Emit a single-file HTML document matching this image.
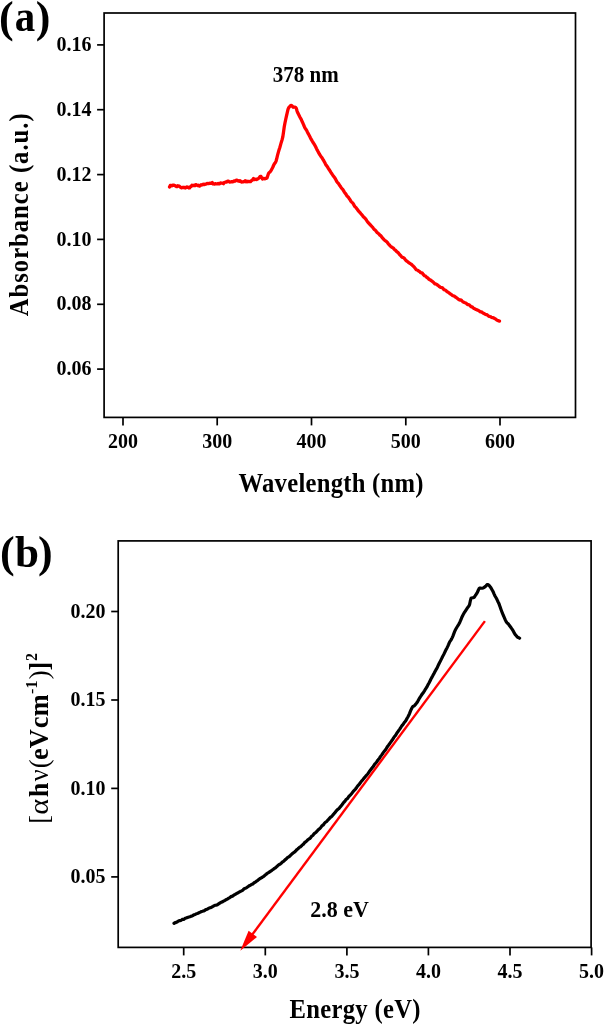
<!DOCTYPE html>
<html><head><meta charset="utf-8"><style>
html,body{margin:0;padding:0;background:#fff;}
svg{display:block;will-change:transform;}
text{font-family:"Liberation Serif","Times New Roman",serif;font-weight:bold;fill:#000;}
.tk{font-size:20px;}
.lbl{font-size:21px;}
.lbl2{font-size:22px;}
.pl{font-size:44px;}
.ttl{font-size:26.5px;}
.ttl2{font-size:26.5px;}
.r{font-weight:normal;}
.sup{font-size:16px;}
</style></head><body>
<svg width="604" height="1024" viewBox="0 0 604 1024">
<rect x="104.1" y="13.0" width="471.4" height="404.4" fill="none" stroke="#000" stroke-width="1.7"/>
<line x1="123.0" y1="417.4" x2="123.0" y2="425.4" stroke="#000" stroke-width="1.7"/>
<text transform="translate(123.0,447.7) scale(1,1.045)" text-anchor="middle" class="tk">200</text>
<line x1="217.2" y1="417.4" x2="217.2" y2="425.4" stroke="#000" stroke-width="1.7"/>
<text transform="translate(217.2,447.7) scale(1,1.045)" text-anchor="middle" class="tk">300</text>
<line x1="311.5" y1="417.4" x2="311.5" y2="425.4" stroke="#000" stroke-width="1.7"/>
<text transform="translate(311.5,447.7) scale(1,1.045)" text-anchor="middle" class="tk">400</text>
<line x1="405.8" y1="417.4" x2="405.8" y2="425.4" stroke="#000" stroke-width="1.7"/>
<text transform="translate(405.8,447.7) scale(1,1.045)" text-anchor="middle" class="tk">500</text>
<line x1="500.0" y1="417.4" x2="500.0" y2="425.4" stroke="#000" stroke-width="1.7"/>
<text transform="translate(500.0,447.7) scale(1,1.045)" text-anchor="middle" class="tk">600</text>
<line x1="97.1" y1="369.1" x2="104.1" y2="369.1" stroke="#000" stroke-width="1.7"/>
<text transform="translate(91.4,374.95) scale(1,1.04)" text-anchor="end" class="tk">0.06</text>
<line x1="97.1" y1="304.3" x2="104.1" y2="304.3" stroke="#000" stroke-width="1.7"/>
<text transform="translate(91.4,310.23) scale(1,1.04)" text-anchor="end" class="tk">0.08</text>
<line x1="97.1" y1="239.4" x2="104.1" y2="239.4" stroke="#000" stroke-width="1.7"/>
<text transform="translate(91.4,245.51) scale(1,1.04)" text-anchor="end" class="tk">0.10</text>
<line x1="97.1" y1="174.6" x2="104.1" y2="174.6" stroke="#000" stroke-width="1.7"/>
<text transform="translate(91.4,180.79) scale(1,1.04)" text-anchor="end" class="tk">0.12</text>
<line x1="97.1" y1="109.7" x2="104.1" y2="109.7" stroke="#000" stroke-width="1.7"/>
<text transform="translate(91.4,116.07) scale(1,1.04)" text-anchor="end" class="tk">0.14</text>
<line x1="97.1" y1="44.9" x2="104.1" y2="44.9" stroke="#000" stroke-width="1.7"/>
<text transform="translate(91.4,51.35) scale(1,1.04)" text-anchor="end" class="tk">0.16</text>
<polyline points="169.50,186.96 170.25,185.45 171.00,185.33 171.75,185.93 172.50,185.39 173.25,185.10 174.00,185.06 174.75,185.54 175.50,185.93 176.25,186.51 177.00,186.66 177.75,185.72 178.50,185.96 179.25,186.11 180.00,186.94 180.75,187.32 181.50,187.77 182.25,187.40 183.00,187.41 183.75,187.66 184.50,187.32 185.25,188.00 186.00,187.76 186.75,186.89 187.50,187.06 188.25,187.31 189.00,187.99 189.75,187.84 190.50,186.63 191.25,186.46 192.00,185.12 192.75,185.72 193.50,185.66 194.25,185.11 195.00,185.64 195.75,184.59 196.50,184.95 197.25,185.52 198.00,185.10 198.75,185.75 199.50,186.16 200.25,185.32 201.00,184.78 201.75,185.04 202.50,184.68 203.25,184.26 204.00,184.61 204.75,184.39 205.50,184.04 206.25,184.12 207.00,183.46 207.75,183.61 208.50,183.58 209.25,183.33 210.00,183.22 210.75,183.30 211.50,183.13 212.25,182.53 213.00,183.86 213.75,183.83 214.50,184.16 215.25,183.65 216.00,183.93 216.75,183.78 217.50,183.90 218.25,183.43 219.00,183.75 219.75,183.79 220.50,182.93 221.25,183.12 222.00,183.18 222.75,183.25 223.50,183.72 224.25,182.51 225.00,182.29 225.75,181.94 226.50,182.12 227.25,181.30 228.00,181.08 228.75,181.35 229.50,182.06 230.25,182.03 231.00,181.81 231.75,181.68 232.50,181.87 233.25,181.73 234.00,180.99 234.75,180.95 235.50,181.00 236.25,180.07 237.00,180.16 237.75,180.51 238.50,181.13 239.25,181.23 240.00,180.63 240.75,181.46 241.50,182.12 242.25,181.79 243.00,181.91 243.75,181.54 244.50,181.53 245.25,180.70 246.00,181.84 246.75,181.18 247.50,181.76 248.25,181.47 249.00,181.51 249.75,181.59 250.50,181.71 251.25,180.78 252.00,180.35 252.75,179.51 253.50,178.47 254.25,179.48 255.00,179.49 255.75,179.19 256.50,179.49 257.25,179.02 258.00,178.80 258.75,178.20 259.50,177.31 260.25,176.39 261.00,176.47 261.75,177.93 262.50,179.07 263.25,178.47 264.00,178.48 264.75,178.83 265.50,178.28 266.25,178.40 267.00,177.85 267.75,175.71 268.50,173.52 269.25,172.55 270.00,171.99 270.75,171.07 271.50,169.71 272.25,168.31 273.00,166.75 273.75,165.00 274.50,163.60 275.25,162.70 276.00,161.27 276.75,158.56 277.50,155.48 278.25,152.60 279.00,150.03 279.75,147.71 280.50,145.13 281.25,142.43 282.00,140.03 282.75,137.17 283.50,132.32 284.25,126.81 285.00,122.76 285.75,119.24 286.50,115.83 287.25,112.67 288.00,109.49 288.75,107.66 289.50,106.82 290.25,105.91 291.00,105.44 291.75,105.57 292.50,106.50 293.25,107.22 294.00,107.07 294.75,107.20 295.50,107.37 296.25,108.28 297.00,110.83 297.75,112.82 298.50,114.29 299.25,115.74 300.00,117.25 300.75,118.58 301.50,120.07 302.25,121.71 303.00,123.37 303.75,125.25 304.50,126.95 305.25,128.37 306.00,129.48 306.75,130.66 307.50,132.24 308.25,133.70 309.00,134.99 309.75,136.42 310.50,138.01 311.25,139.46 312.00,140.70 312.75,142.01 313.50,143.15 314.25,144.26 315.00,145.57 315.75,146.97 316.50,148.64 317.25,150.21 318.00,151.47 318.75,152.89 319.50,154.30 320.25,155.38 321.00,156.43 321.75,157.43 322.50,158.60 323.25,159.95 324.00,161.16 324.75,162.57 325.50,164.05 326.25,165.31 327.00,166.29 327.75,167.32 328.50,168.59 329.25,169.74 330.00,170.93 330.75,172.17 331.50,173.31 332.25,174.36 333.00,175.43 333.75,176.42 334.50,177.41 335.25,178.64 336.00,180.01 336.75,181.54 337.50,182.58 338.25,183.20 339.00,184.37 339.75,185.52 340.50,186.54 341.25,187.75 342.00,188.62 342.75,189.43 343.50,190.69 344.25,191.95 345.00,192.91 345.75,193.87 346.50,195.18 347.25,196.21 348.00,196.87 348.75,197.84 349.50,198.96 350.25,200.17 351.00,201.45 351.75,202.21 352.50,202.76 353.25,203.72 354.00,205.14 354.75,206.43 355.50,207.12 356.25,207.90 357.00,208.90 357.75,210.01 358.50,211.08 359.25,211.78 360.00,212.60 360.75,213.57 361.50,214.32 362.25,215.20 363.00,216.34 363.75,217.16 364.50,217.76 365.25,218.46 366.00,219.42 366.75,220.65 367.50,221.73 368.25,222.64 369.00,223.52 369.75,224.24 370.50,224.96 371.25,225.89 372.00,226.68 372.75,227.43 373.50,228.43 374.25,229.36 375.00,229.94 375.75,230.63 376.50,231.75 377.25,232.71 378.00,233.18 378.75,233.77 379.50,234.72 380.25,235.47 381.00,235.97 381.75,237.00 382.50,237.99 383.25,238.66 384.00,239.62 384.75,240.31 385.50,240.81 386.25,241.42 387.00,241.98 387.75,243.03 388.50,244.11 389.25,244.82 390.00,245.66 390.75,246.39 391.50,247.04 392.25,247.42 393.00,247.71 393.75,248.64 394.50,249.56 395.25,250.04 396.00,250.75 396.75,251.70 397.50,252.25 398.25,252.71 399.00,253.69 399.75,254.69 400.50,255.41 401.25,256.33 402.00,257.14 402.75,257.41 403.50,257.64 404.25,258.28 405.00,259.32 405.75,260.26 406.50,260.91 407.25,261.45 408.00,261.99 408.75,262.61 409.50,263.18 410.25,263.66 411.00,264.07 411.75,264.65 412.50,265.43 413.25,266.06 414.00,266.83 414.75,267.75 415.50,268.71 416.25,269.70 417.00,270.02 417.75,270.22 418.50,270.92 419.25,271.47 420.00,271.98 420.75,272.65 421.50,272.77 422.25,273.07 423.00,274.10 423.75,275.04 424.50,275.70 425.25,275.97 426.00,276.49 426.75,277.32 427.50,277.75 428.25,278.45 429.00,279.28 429.75,279.66 430.50,280.04 431.25,280.70 432.00,281.25 432.75,281.67 433.50,282.35 434.25,283.24 435.00,283.87 435.75,283.94 436.50,284.23 437.25,284.94 438.00,285.47 438.75,286.01 439.50,286.69 440.25,287.22 441.00,287.51 441.75,287.67 442.50,287.87 443.25,288.75 444.00,289.74 444.75,290.02 445.50,290.21 446.25,290.79 447.00,291.59 447.75,292.04 448.50,292.39 449.25,293.10 450.00,293.76 450.75,294.15 451.50,294.64 452.25,295.35 453.00,295.74 453.75,295.90 454.50,296.25 455.25,296.86 456.00,297.48 456.75,297.97 457.50,298.55 458.25,299.14 459.00,299.66 459.75,299.98 460.50,299.97 461.25,300.16 462.00,300.95 462.75,301.69 463.50,302.09 464.25,302.44 465.00,302.70 465.75,302.98 466.50,303.56 467.25,304.32 468.00,304.67 468.75,304.72 469.50,305.02 470.25,305.80 471.00,306.61 471.75,306.86 472.50,307.14 473.25,307.92 474.00,308.53 474.75,308.82 475.50,309.18 476.25,309.59 477.00,309.93 477.75,310.14 478.50,310.48 479.25,311.08 480.00,311.66 480.75,311.86 481.50,311.86 482.25,312.45 483.00,313.07 483.75,313.29 484.50,313.75 485.25,314.27 486.00,314.53 486.75,314.70 487.50,315.18 488.25,315.90 489.00,316.34 489.75,316.49 490.50,316.74 491.25,317.24 492.00,317.59 492.75,317.56 493.50,317.80 494.25,318.34 495.00,318.68 495.75,319.14 496.50,319.82 497.25,320.24 498.00,320.57 498.75,320.94 499.50,321.16" fill="none" stroke="#ff0000" stroke-width="3.3" stroke-linejoin="round" stroke-linecap="round"/>
<text transform="translate(272.8,82) scale(1,1.06)" class="lbl">378 nm</text>
<text x="-0.9" y="32" class="pl">(</text>
<text transform="translate(14.75,30.7) scale(0.93,1)" class="pl">a</text>
<text x="35.800000000000004" y="32" class="pl">)</text>
<text transform="translate(238.5,491.8) scale(0.93,1)" class="ttl" textLength="198.92" lengthAdjust="spacing">Wavelength (nm)</text>
<text transform="translate(28.0,316.3) rotate(-90) scale(0.93,1)" class="ttl" textLength="218.28" lengthAdjust="spacing">Absorbance (a.u.)</text>
<rect x="118.2" y="540.9" width="472.9" height="406.5" fill="none" stroke="#000" stroke-width="1.7"/>
<line x1="183.7" y1="947.4" x2="183.7" y2="955.4" stroke="#000" stroke-width="1.7"/>
<text transform="translate(183.7,977.8) scale(1,1.06)" text-anchor="middle" class="tk">2.5</text>
<line x1="265.3" y1="947.4" x2="265.3" y2="955.4" stroke="#000" stroke-width="1.7"/>
<text transform="translate(265.3,977.8) scale(1,1.06)" text-anchor="middle" class="tk">3.0</text>
<line x1="346.9" y1="947.4" x2="346.9" y2="955.4" stroke="#000" stroke-width="1.7"/>
<text transform="translate(346.9,977.8) scale(1,1.06)" text-anchor="middle" class="tk">3.5</text>
<line x1="428.4" y1="947.4" x2="428.4" y2="955.4" stroke="#000" stroke-width="1.7"/>
<text transform="translate(428.4,977.8) scale(1,1.06)" text-anchor="middle" class="tk">4.0</text>
<line x1="510.0" y1="947.4" x2="510.0" y2="955.4" stroke="#000" stroke-width="1.7"/>
<text transform="translate(510.0,977.8) scale(1,1.06)" text-anchor="middle" class="tk">4.5</text>
<line x1="591.6" y1="947.4" x2="591.6" y2="955.4" stroke="#000" stroke-width="1.7"/>
<text transform="translate(591.6,977.8) scale(1,1.06)" text-anchor="middle" class="tk">5.0</text>
<line x1="111.2" y1="876.9" x2="118.2" y2="876.9" stroke="#000" stroke-width="1.7"/>
<text transform="translate(105.6,882.64) scale(1,1.075)" text-anchor="end" class="tk">0.05</text>
<line x1="111.2" y1="788.4" x2="118.2" y2="788.4" stroke="#000" stroke-width="1.7"/>
<text transform="translate(105.6,794.51) scale(1,1.075)" text-anchor="end" class="tk">0.10</text>
<line x1="111.2" y1="700.0" x2="118.2" y2="700.0" stroke="#000" stroke-width="1.7"/>
<text transform="translate(105.6,706.38) scale(1,1.075)" text-anchor="end" class="tk">0.15</text>
<line x1="111.2" y1="611.5" x2="118.2" y2="611.5" stroke="#000" stroke-width="1.7"/>
<text transform="translate(105.6,618.25) scale(1,1.075)" text-anchor="end" class="tk">0.20</text>
<polyline points="174.00,923.38 174.75,922.85 175.50,922.58 176.25,922.39 177.00,922.08 177.75,921.55 178.50,921.01 179.25,920.71 180.00,920.67 180.75,920.54 181.50,920.02 182.25,919.43 183.00,919.27 183.75,919.29 184.50,918.84 185.25,918.28 186.00,918.01 186.75,917.72 187.50,917.44 188.25,917.19 189.00,916.97 189.75,916.79 190.50,916.46 191.25,916.10 192.00,915.94 192.75,915.59 193.50,915.04 194.25,914.70 195.00,914.44 195.75,914.11 196.50,913.78 197.25,913.57 198.00,913.32 198.75,912.89 199.50,912.49 200.25,912.15 201.00,911.74 201.75,911.44 202.50,911.22 203.25,910.97 204.00,910.84 204.75,910.40 205.50,909.78 206.25,909.47 207.00,909.17 207.75,908.89 208.50,908.47 209.25,907.95 210.00,907.70 210.75,907.56 211.50,907.22 212.25,906.77 213.00,906.39 213.75,905.95 214.50,905.52 215.25,905.30 216.00,905.16 216.75,904.97 217.50,904.67 218.25,904.17 219.00,903.68 219.75,903.20 220.50,902.64 221.25,902.32 222.00,902.05 222.75,901.55 223.50,901.09 224.25,900.75 225.00,900.35 225.75,899.86 226.50,899.44 227.25,899.10 228.00,898.62 228.75,898.19 229.50,897.80 230.25,897.19 231.00,896.61 231.75,896.35 232.50,896.15 233.25,895.65 234.00,895.01 234.75,894.63 235.50,894.30 236.25,893.74 237.00,893.30 237.75,892.99 238.50,892.48 239.25,892.05 240.00,891.67 240.75,891.21 241.50,890.88 242.25,890.52 243.00,889.83 243.75,889.08 244.50,888.59 245.25,888.31 246.00,887.99 246.75,887.54 247.50,887.00 248.25,886.45 249.00,885.94 249.75,885.52 250.50,885.11 251.25,884.63 252.00,884.31 252.75,884.01 253.50,883.28 254.25,882.62 255.00,882.35 255.75,881.79 256.50,881.13 257.25,880.73 258.00,880.18 258.75,879.50 259.50,878.90 260.25,878.41 261.00,878.09 261.75,877.69 262.50,877.09 263.25,876.67 264.00,876.18 264.75,875.40 265.50,874.81 266.25,874.24 267.00,873.54 267.75,873.02 268.50,872.65 269.25,872.17 270.00,871.55 270.75,871.06 271.50,870.61 272.25,870.07 273.00,869.53 273.75,868.95 274.50,868.45 275.25,867.99 276.00,867.29 276.75,866.59 277.50,865.94 278.25,865.19 279.00,864.66 279.75,864.27 280.50,863.80 281.25,863.21 282.00,862.34 282.75,861.66 283.50,861.39 284.25,860.75 285.00,859.93 285.75,859.42 286.50,858.65 287.25,857.76 288.00,857.20 288.75,856.82 289.50,856.32 290.25,855.53 291.00,854.80 291.75,854.19 292.50,853.49 293.25,852.85 294.00,852.40 294.75,851.93 295.50,851.16 296.25,850.22 297.00,849.51 297.75,848.96 298.50,848.27 299.25,847.47 300.00,846.93 300.75,846.64 301.50,845.94 302.25,845.04 303.00,844.53 303.75,843.78 304.50,842.70 305.25,842.02 306.00,841.56 306.75,840.98 307.50,840.23 308.25,839.47 309.00,838.92 309.75,838.54 310.50,837.81 311.25,836.69 312.00,835.98 312.75,835.50 313.50,834.53 314.25,833.63 315.00,833.05 315.75,832.47 316.50,831.81 317.25,830.92 318.00,830.04 318.75,829.39 319.50,828.82 320.25,828.16 321.00,827.14 321.75,826.06 322.50,825.43 323.25,824.91 324.00,823.92 324.75,822.88 325.50,822.26 326.25,821.77 327.00,821.05 327.75,820.15 328.50,819.46 329.25,818.70 330.00,817.73 330.75,817.04 331.50,816.57 332.25,815.84 333.00,814.86 333.75,813.97 334.50,813.14 335.25,812.20 336.00,811.23 336.75,810.36 337.50,809.60 338.25,809.04 339.00,808.41 339.75,807.45 340.50,806.61 341.25,805.77 342.00,804.81 342.75,803.80 343.50,802.71 344.25,802.00 345.00,801.18 345.75,799.98 346.50,799.22 347.25,798.68 348.00,797.71 348.75,796.67 349.50,795.82 350.25,795.06 351.00,794.33 351.75,793.44 352.50,792.39 353.25,791.43 354.00,790.69 354.75,789.97 355.50,789.04 356.25,788.04 357.00,786.94 357.75,785.84 358.50,785.02 359.25,784.30 360.00,783.32 360.75,782.14 361.50,781.16 362.25,780.39 363.00,779.51 363.75,778.53 364.50,777.63 365.25,776.77 366.00,775.91 366.75,775.05 367.50,774.16 368.25,773.22 369.00,772.11 369.75,770.95 370.50,769.97 371.25,769.03 372.00,768.03 372.75,767.16 373.50,766.17 374.25,764.86 375.00,763.79 375.75,763.07 376.50,762.16 377.25,761.01 378.00,759.98 378.75,759.19 379.50,758.19 380.25,756.94 381.00,755.85 381.75,754.85 382.50,753.80 383.25,752.66 384.00,751.66 384.75,750.81 385.50,749.75 386.25,748.62 387.00,747.39 387.75,746.18 388.50,745.30 389.25,744.32 390.00,743.22 390.75,742.12 391.50,741.05 392.25,740.04 393.00,738.85 393.75,737.61 394.50,736.58 395.25,735.69 396.00,734.65 396.75,733.32 397.50,732.16 398.25,731.21 399.00,730.13 399.75,729.13 400.50,727.97 401.25,726.69 402.00,725.63 402.75,724.72 403.50,723.69 404.25,722.55 405.00,721.66 405.75,720.73 406.50,719.39 407.25,718.01 408.00,716.74 408.75,715.36 409.50,713.63 410.25,711.68 411.00,709.96 411.75,708.32 412.50,706.93 413.25,706.24 414.00,706.00 414.75,705.33 415.50,704.39 416.25,703.51 417.00,702.58 417.75,701.35 418.50,699.93 419.25,698.59 420.00,697.42 420.75,696.23 421.50,695.04 422.25,693.98 423.00,692.97 423.75,691.96 424.50,690.81 425.25,689.44 426.00,688.30 426.75,687.18 427.50,685.74 428.25,684.35 429.00,683.02 429.75,681.61 430.50,680.03 431.25,678.43 432.00,677.12 432.75,675.79 433.50,674.36 434.25,673.02 435.00,671.56 435.75,670.16 436.50,668.93 437.25,667.50 438.00,665.86 438.75,664.29 439.50,662.83 440.25,661.36 441.00,659.86 441.75,658.33 442.50,656.81 443.25,655.38 444.00,653.93 444.75,652.36 445.50,650.73 446.25,649.28 447.00,647.91 447.75,646.40 448.50,644.69 449.25,642.83 450.00,641.37 450.75,640.33 451.50,639.11 452.25,637.60 453.00,635.80 453.75,633.87 454.50,631.92 455.25,630.18 456.00,628.80 456.75,627.49 457.50,626.26 458.25,625.07 459.00,623.82 459.75,622.42 460.50,620.67 461.25,618.80 462.00,616.98 462.75,615.44 463.50,614.07 464.25,612.70 465.00,611.56 465.75,610.49 466.50,609.33 467.25,608.17 468.00,607.08 468.75,606.17 469.50,604.81 470.25,601.21 471.00,598.29 471.75,597.94 472.50,597.75 473.25,597.65 474.00,597.47 474.75,596.50 475.50,595.23 476.25,594.23 477.00,593.06 477.75,591.45 478.50,589.75 479.25,588.39 480.00,587.99 480.75,588.16 481.50,588.26 482.25,588.22 483.00,588.06 483.75,587.65 484.50,587.14 485.25,586.62 486.00,585.84 486.75,584.93 487.50,584.53 488.25,584.81 489.00,585.45 489.75,586.21 490.50,587.17 491.25,588.42 492.00,589.73 492.75,591.04 493.50,592.56 494.25,594.36 495.00,595.97 495.75,597.23 496.50,598.51 497.25,600.11 498.00,601.71 498.75,603.17 499.50,605.15 500.25,607.36 501.00,609.44 501.75,611.47 502.50,613.38 503.25,615.27 504.00,616.97 504.75,618.63 505.50,620.38 506.25,621.83 507.00,622.79 507.75,623.40 508.50,624.21 509.25,625.29 510.00,626.30 510.75,627.29 511.50,628.34 512.25,629.40 513.00,630.57 513.75,631.95 514.50,633.41 515.25,634.58 516.00,635.39 516.75,636.37 517.50,637.15 518.25,637.44 519.00,637.82 519.60,638.22" fill="none" stroke="#000" stroke-width="3.2" stroke-linejoin="round" stroke-linecap="round"/>
<line x1="484.9" y1="621.1" x2="252.2" y2="934.6" stroke="#ff0000" stroke-width="2.4"/>
<polygon points="240.3,950.7 248.6,930.7 257.0,936.9" fill="#ff0000"/>
<text transform="translate(310.2,916.7) scale(1,1.08)" class="lbl2">2.8 eV</text>
<text x="0" y="567.3" class="pl">(</text>
<text transform="translate(14.95,567.0) scale(0.98,1)" class="pl">b</text>
<text x="37.9" y="567.3" class="pl">)</text>
<text transform="translate(289.5,1018) scale(0.93,1)" class="ttl" textLength="140.86" lengthAdjust="spacing">Energy (eV)</text>
<g transform="translate(47.9,0) rotate(-90)">
<text x="-823.80" y="0" style="font-size:26.5px;font-weight:normal">[</text>
<text transform="translate(-814.71,0) scale(1.140,1)" x="0" y="0" style="font-size:26.5px;font-weight:normal">&#945;</text>
<text x="-797.34" y="0" style="font-size:26.5px;font-weight:bold">h</text>
<text x="-781.25" y="0" style="font-size:26.5px;font-weight:normal">&#957;</text>
<text x="-768.17" y="0" style="font-size:26.5px;font-weight:normal">(</text>
<text x="-759.93" y="0" style="font-size:26.5px;font-weight:bold">e</text>
<text x="-748.34" y="0" style="font-size:26.5px;font-weight:bold">V</text>
<text x="-728.33" y="0" style="font-size:26.5px;font-weight:bold">c</text>
<text x="-716.53" y="0" style="font-size:26.5px;font-weight:bold">m</text>
<text x="-693.99" y="-10.8" style="font-size:16px;font-weight:normal">-</text>
<text x="-688.44" y="-10.8" style="font-size:16px;font-weight:bold">1</text>
<text x="-679.29" y="0" style="font-size:26.5px;font-weight:normal">)</text>
<text x="-670.51" y="0" style="font-size:26.5px;font-weight:bold">]</text>
<text x="-661.10" y="-10.8" style="font-size:16px;font-weight:bold">2</text>
</g>
</svg>
</body></html>
